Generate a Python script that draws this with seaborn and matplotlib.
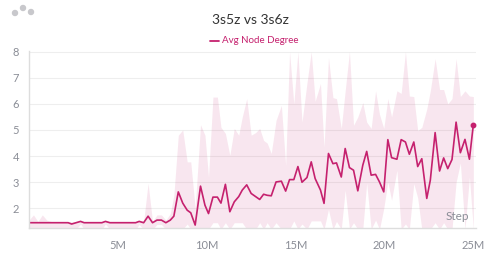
import pandas as pd
import seaborn as sns
import matplotlib.pyplot as plt
from matplotlib.patches import Ellipse
from matplotlib.lines import Line2D

# step in millions
steps = [0.0, 0.25, 0.5, 0.75, 1.0, 1.25, 1.5, 1.75, 2.0, 2.2,
         2.4, 2.65, 2.9, 3.1, 3.35, 3.6, 3.85, 4.1, 4.3, 4.55,
         4.8, 5.0, 5.25, 5.5, 5.75, 6.0, 6.2, 6.45, 6.7, 6.95,
         7.2, 7.45, 7.7, 7.95, 8.15, 8.4, 8.65, 8.9, 9.1, 9.35,
         9.65, 9.9, 10.1, 10.35, 10.6, 10.8, 11.05, 11.3, 11.55, 11.8,
         12.0, 12.25, 12.5, 12.75, 12.98, 13.2, 13.4, 13.63, 13.9, 14.2,
         14.44, 14.66, 14.9, 15.13, 15.36, 15.64, 15.88, 16.1, 16.4, 16.6,
         16.85, 17.1, 17.3, 17.57, 17.79, 18.03, 18.26, 18.5, 18.78, 19.0,
         19.25, 19.5, 19.72, 19.96, 20.19, 20.4, 20.7, 20.94, 21.18, 21.4,
         21.65, 21.87, 22.1, 22.38, 22.58, 22.85, 23.1, 23.33, 23.56, 23.8,
         24.03, 24.27, 24.53, 24.78, 25.0]

avg_degree = [1.45, 1.45, 1.45, 1.45, 1.45, 1.45, 1.45, 1.45, 1.45, 1.45,
              1.40, 1.45, 1.50, 1.45, 1.45, 1.45, 1.45, 1.45, 1.50, 1.45,
              1.45, 1.45, 1.45, 1.45, 1.45, 1.45, 1.50, 1.45, 1.70, 1.45,
              1.55, 1.55, 1.45, 1.55, 1.70, 2.63, 2.20, 1.93, 1.83, 1.36,
              2.85, 2.12, 1.80, 2.43, 2.43, 2.20, 2.92, 1.87, 2.25, 2.45,
              2.70, 2.90, 2.57, 2.45, 2.34, 2.54, 2.50, 2.48, 3.01, 3.04,
              2.66, 3.10, 3.10, 3.60, 3.00, 3.18, 3.78, 3.14, 2.70, 2.19,
              4.10, 3.71, 3.74, 3.20, 4.29, 3.56, 3.46, 2.67, 3.65, 4.18,
              3.27, 3.30, 3.01, 2.63, 4.63, 3.94, 3.88, 4.63, 4.54, 4.07,
              4.54, 3.60, 3.90, 2.38, 3.08, 4.90, 3.43, 3.93, 3.52, 3.87,
              5.30, 4.13, 4.64, 3.88, 5.20]

max_degree = [1.55, 1.75, 1.50, 1.75, 1.55, 1.50, 1.50, 1.50, 1.50, 1.50,
              1.48, 1.50, 1.55, 1.50, 1.50, 1.50, 1.50, 1.50, 1.55, 1.50,
              1.50, 1.50, 1.50, 1.50, 1.50, 1.50, 1.55, 1.50, 2.96, 1.50,
              1.75, 1.75, 1.55, 1.80, 2.50, 4.80, 5.00, 3.78, 3.78, 2.00,
              5.20, 4.80, 3.20, 6.26, 6.26, 5.10, 4.87, 4.03, 5.06, 4.80,
              5.50, 6.20, 4.80, 4.90, 5.06, 4.60, 4.50, 4.10, 5.37, 5.94,
              3.65, 8.00, 6.00, 8.00, 5.30, 6.80, 8.00, 6.10, 6.78, 4.35,
              7.77, 6.24, 6.20, 5.06, 6.50, 8.00, 5.18, 5.50, 6.05, 5.30,
              5.06, 6.50, 5.60, 5.06, 6.20, 5.50, 6.50, 6.40, 8.00, 6.30,
              6.28, 4.98, 5.10, 5.80, 6.50, 7.73, 6.55, 6.55, 6.00, 6.20,
              7.73, 6.28, 6.50, 6.30, 6.28]

min_degree = [1.20, 1.20, 1.20, 1.20, 1.20, 1.20, 1.20, 1.20, 1.20, 1.20,
              1.20, 1.20, 1.40, 1.20, 1.20, 1.20, 1.20, 1.20, 1.40, 1.20,
              1.20, 1.20, 1.20, 1.20, 1.20, 1.20, 1.38, 1.20, 1.20, 1.20,
              1.38, 1.38, 1.20, 1.20, 1.20, 1.20, 1.20, 1.40, 1.20, 1.20,
              1.20, 1.20, 1.20, 1.45, 1.45, 1.20, 1.45, 1.20, 1.45, 1.45,
              1.45, 1.20, 1.20, 1.20, 1.45, 1.20, 1.45, 1.20, 1.45, 1.20,
              1.20, 1.20, 1.52, 1.20, 1.40, 1.20, 1.52, 1.52, 1.52, 1.20,
              1.96, 1.20, 1.50, 1.20, 2.70, 1.20, 1.45, 1.20, 1.20, 2.97,
              1.20, 1.55, 1.20, 2.00, 3.01, 2.31, 3.46, 1.20, 1.40, 1.20,
              2.95, 2.40, 1.20, 1.20, 1.20, 1.45, 1.20, 1.45, 1.20, 1.20,
              3.00, 3.74, 1.20, 3.20, 1.20]

xtick_vals = [5, 10, 15, 20, 25]
xtick_labels = ['5M', '10M', '15M', '20M', '25M']
ytick_vals = [2, 3, 4, 5, 6, 7, 8]

df = pd.DataFrame({'step': steps, 'avg': avg_degree,
                   'max': max_degree, 'min': min_degree})

line_color = '#C5216E'
grey = '#8a8d96'

sns.set_style('white')
plt.rcParams['font.family'] = ['Lato', 'DejaVu Sans']

fig = plt.figure(figsize=(5, 2.62), dpi=100)
ax = fig.add_axes([0.058, 0.13, 0.894, 0.675])

ax.fill_between(df['step'], df['min'], df['max'], color=line_color,
                alpha=0.11, linewidth=0)
sns.lineplot(x='step', y='avg', data=df, ax=ax, color=line_color,
             linewidth=1.2)
ax.plot(df['step'].iloc[-1], df['avg'].iloc[-1], 'o', color=line_color,
        markersize=3.2)

ax.set_xlim(0, 25.15)
ax.set_ylim(1.25, 8.02)
ax.set_xticks(xtick_vals)
ax.set_xticklabels(xtick_labels)
ax.set_yticks(ytick_vals)
ax.set_xlabel('')
ax.set_ylabel('')
ax.tick_params(axis='both', labelsize=8, colors=grey)
ax.tick_params(axis='x', length=3, width=0.8, color='#dddddd', pad=6)
ax.tick_params(axis='y', length=0, pad=7)
ax.yaxis.grid(True, color='#eeeeee', linewidth=0.8)
ax.set_axisbelow(True)
for side in ['top', 'right']:
    ax.spines[side].set_visible(False)
for side in ['left', 'bottom']:
    ax.spines[side].set_color('#dddddd')
    ax.spines[side].set_linewidth(1.0)

ax.text(0.985, 0.035, 'Step', transform=ax.transAxes, ha='right',
        va='bottom', fontsize=8.5, color=grey)

fig.text(0.5, 0.925, '3s5z vs 3s6z', ha='center', va='center',
         fontsize=10, color='#333333')
fig.add_artist(Line2D([0.419, 0.437], [0.845, 0.845], color=line_color,
                      linewidth=1.3, transform=fig.transFigure))
fig.text(0.445, 0.845, 'Avg Node Degree', ha='left', va='center',
         fontsize=7, color=line_color)

# panel menu dots
for cx, cy in [(15, 13), (23, 8), (31, 12)]:
    fig.add_artist(Ellipse((cx / 500, 1 - cy / 262), 5 / 500, 5 / 262,
                           transform=fig.transFigure, color='#c8c8cc'))

plt.savefig('out.png', dpi=100)
